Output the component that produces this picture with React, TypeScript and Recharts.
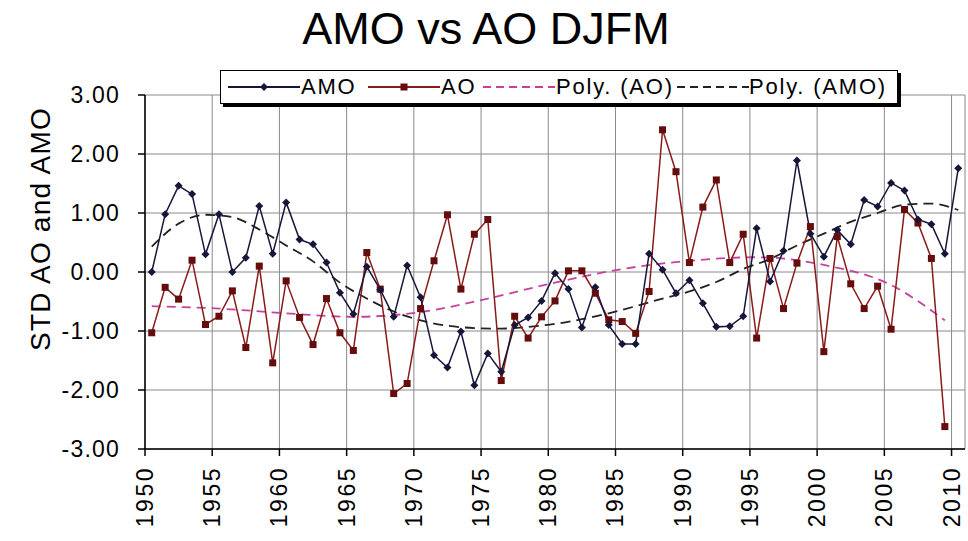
import { LineChart, Line, XAxis, YAxis, CartesianGrid } from 'recharts';

const years = [
  1950, 1951, 1952, 1953, 1954, 1955, 1956, 1957, 1958, 1959,
  1960, 1961, 1962, 1963, 1964, 1965, 1966, 1967, 1968, 1969,
  1970, 1971, 1972, 1973, 1974, 1975, 1976, 1977, 1978, 1979,
  1980, 1981, 1982, 1983, 1984, 1985, 1986, 1987, 1988, 1989,
  1990, 1991, 1992, 1993, 1994, 1995, 1996, 1997, 1998, 1999,
  2000, 2001, 2002, 2003, 2004, 2005, 2006, 2007, 2008, 2009, 2010,
];

const amo = [
  0.0, 0.98, 1.46, 1.32, 0.3, 0.98, 0.0, 0.24, 1.12, 0.31,
  1.18, 0.55, 0.47, 0.16, -0.35, -0.71, 0.09, -0.3, -0.76, 0.11,
  -0.43, -1.41, -1.62, -1.01, -1.92, -1.38, -1.69, -0.9, -0.77, -0.49,
  -0.02, -0.29, -0.94, -0.26, -0.9, -1.22, -1.22, 0.31, 0.04, -0.36,
  -0.14, -0.53, -0.93, -0.92, -0.75, 0.74, -0.16, 0.36, 1.89, 0.65,
  0.26, 0.71, 0.47, 1.22, 1.11, 1.51, 1.38, 0.89, 0.81, 0.31, 1.76,
];

const ao = [
  -1.03, -0.26, -0.46, 0.2, -0.89, -0.75, -0.32, -1.28, 0.1, -1.54,
  -0.15, -0.77, -1.23, -0.45, -1.03, -1.33, 0.33, -0.29, -2.06, -1.89,
  -0.62, 0.19, 0.97, -0.29, 0.64, 0.89, -1.84, -0.75, -1.12, -0.76,
  -0.49, 0.02, 0.02, -0.36, -0.81, -0.84, -1.04, -0.33, 2.41, 1.7,
  0.16, 1.1, 1.56, 0.16, 0.64, -1.12, 0.23, -0.62, 0.15, 0.77,
  -1.35, 0.6, -0.2, -0.62, -0.24, -0.97, 1.06, 0.83, 0.23, -2.62, null,
];

// trend lines at a few years
const polyAoYears = [1950, 1955, 1960, 1965, 1970, 1975, 1980, 1985, 1990, 1995, 2000, 2005, 2009];
const polyAo = [-0.58, -0.62, -0.7, -0.76, -0.68, -0.45, -0.18, 0.05, 0.19, 0.25, 0.12, -0.22, -0.82];

const polyAmoYears = [
  1950, 1952, 1954, 1956, 1958, 1960, 1962, 1964, 1966, 1968, 1970, 1972, 1974, 1976, 1978,
  1980, 1982, 1984, 1986, 1988, 1990, 1992, 1994, 1996, 1998, 2000, 2002, 2004, 2006, 2008, 2010,
];
const polyAmo = [
  0.43, 0.82, 0.97, 0.93, 0.72, 0.45, 0.18, -0.18, -0.45, -0.67, -0.82, -0.91, -0.95, -0.96, -0.93,
  -0.88, -0.8, -0.7, -0.58, -0.45, -0.33, -0.17, 0.05, 0.22, 0.45, 0.65, 0.85, 1.0, 1.14, 1.16, 1.05,
];

const yTicks = [-3, -2, -1, 0, 1, 2, 3];
const xTicks = [1949.5, 1954.5, 1959.5, 1964.5, 1969.5, 1974.5, 1979.5, 1984.5, 1989.5, 1994.5, 1999.5, 2004.5, 2009.5];

const data = years.map((yr, i) => {
  const a = polyAoYears.indexOf(yr);
  const b = polyAmoYears.indexOf(yr);
  return {
    year: yr,
    amo: amo[i],
    ao: ao[i],
    polyAo: a >= 0 ? polyAo[a] : null,
    polyAmo: b >= 0 ? polyAmo[b] : null,
  };
});

const FONT = '"Liberation Sans", Arial, sans-serif';
const AMO_COLOR = '#16163a';
const AO_COLOR = '#8a1a1a';
const POLY_AO_COLOR = '#c8409e';

const Diamond = (props: any) => {
  const { cx, cy, value } = props;
  if (value == null || cx == null || cy == null) return null;
  return <path d={`M${cx} ${cy - 4}L${cx + 4} ${cy}L${cx} ${cy + 4}L${cx - 4} ${cy}Z`} fill={AMO_COLOR} />;
};

const Square = (props: any) => {
  const { cx, cy, value } = props;
  if (value == null || cx == null || cy == null) return null;
  return <rect x={cx - 3.5} y={cy - 3.5} width={7} height={7} fill="#650c0c" />;
};

const YearTick = (props: any) => {
  const { x, y, payload } = props;
  return (
    <text x={x} y={y} transform={`rotate(-90 ${x} ${y})`} textAnchor="end" dominantBaseline="central"
      fontSize={23} letterSpacing={2.5} fill="#000" fontFamily={FONT}>
      {Math.round(payload.value + 0.5)}
    </text>
  );
};

const YValueTick = (props: any) => {
  const { x, y, payload } = props;
  return (
    <text x={x} y={y} textAnchor="end" dominantBaseline="central"
      fontSize={23} letterSpacing={1.2} fill="#000" fontFamily={FONT}>
      {payload.value.toFixed(2)}
    </text>
  );
};

const yLabel = () => (
  <text x={40} y={229} transform="rotate(-90 40 229)" textAnchor="middle" dominantBaseline="central"
    fontSize={28} letterSpacing={1.2} fill="#000" fontFamily={FONT}>
    STD AO and AMO
  </text>
);

function LegendSample({ left, color, dash, marker }: { left: number; color: string; dash?: string; marker?: 'diamond' | 'square' }) {
  return (
    <svg width={72} height={12} style={{ position: 'absolute', left, top: 10 }}>
      <line x1={0} y1={6} x2={72} y2={6} stroke={color} strokeWidth={1.8} strokeDasharray={dash} />
      {marker === 'diamond' && <path d="M36 2L40 6L36 10L32 6Z" fill={color} />}
      {marker === 'square' && <rect x={32.5} y={2.5} width={7} height={7} fill="#650c0c" />}
    </svg>
  );
}

const legendText = { position: 'absolute' as const, top: 3, letterSpacing: 1.8, lineHeight: '26px' };

export default function App() {
  return (
    <div style={{ position: 'absolute', left: 0, top: 0, width: 968, height: 541, background: '#fff', fontFamily: FONT }}>
      <div style={{ position: 'absolute', left: 0, top: 4, width: 972, textAlign: 'center', fontSize: 45, lineHeight: '50px', color: '#000' }}>
        AMO vs AO DJFM
      </div>

      <LineChart width={968} height={541} data={data} margin={{ top: 95, right: 3, bottom: 12, left: 65 }}>
        <CartesianGrid stroke="#8a8a8a" strokeWidth={1} />
        <XAxis
          dataKey="year"
          type="number"
          domain={[1949.5, 2010.5]}
          ticks={xTicks}
          interval={0}
          height={80}
          tick={<YearTick />}
          tickSize={7}
          tickMargin={10}
          stroke="#000"
          strokeWidth={1.5}
          allowDataOverflow
        />
        <YAxis
          domain={[-3, 3]}
          ticks={yTicks}
          width={80}
          tickSize={7}
          tickMargin={18}
          tick={<YValueTick />}
          stroke="#000"
          strokeWidth={1.5}
          label={{ value: 'STD AO and AMO', content: yLabel }}
        />
        <Line dataKey="polyAo" type="monotone" connectNulls stroke={POLY_AO_COLOR} strokeWidth={1.8}
          strokeDasharray="9 6" dot={false} activeDot={false} isAnimationActive={false} />
        <Line dataKey="polyAmo" type="monotone" connectNulls stroke="#222" strokeWidth={1.8}
          strokeDasharray="10 6" dot={false} activeDot={false} isAnimationActive={false} />
        <Line dataKey="ao" type="linear" stroke={AO_COLOR} strokeWidth={1.5}
          dot={<Square />} activeDot={false} isAnimationActive={false} />
        <Line dataKey="amo" type="linear" stroke={AMO_COLOR} strokeWidth={1.5}
          dot={<Diamond />} activeDot={false} isAnimationActive={false} />
      </LineChart>

      <div style={{
        position: 'absolute', left: 220, top: 70, width: 678, height: 34, background: '#fff',
        border: '1.5px solid #000', boxShadow: '3px 3px 0 #000', fontSize: 22, color: '#000',
        boxSizing: 'border-box',
      }}>
        <LegendSample left={7} color={AMO_COLOR} marker="diamond" />
        <span style={{ ...legendText, left: 80 }}>AMO</span>
        <LegendSample left={147} color={AO_COLOR} marker="square" />
        <span style={{ ...legendText, left: 220 }}>AO</span>
        <LegendSample left={262} color={POLY_AO_COLOR} dash="8 5" />
        <span style={{ ...legendText, left: 335 }}>Poly. (AO)</span>
        <LegendSample left={456} color="#222" dash="8 5" />
        <span style={{ ...legendText, left: 528 }}>Poly. (AMO)</span>
      </div>
    </div>
  );
}
